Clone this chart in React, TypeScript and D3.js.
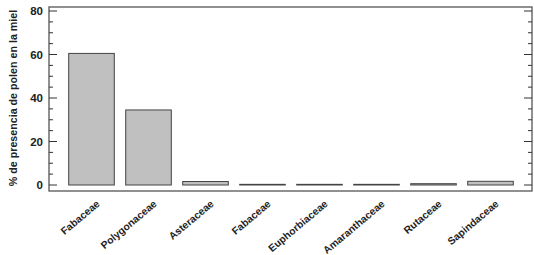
import React from 'react';
import * as d3 from 'd3';

// data
const families = ['Fabaceae', 'Polygonaceae', 'Asteraceae', 'Fabaceae ', 'Euphorbiaceae', 'Amaranthaceae', 'Rutaceae', 'Sapindaceae'];
const pollenPct = [60.5, 34.5, 1.6, 0.3, 0.3, 0.3, 0.6, 1.7];
const majorTicks = [0, 20, 40, 60, 80];
const minorTicks = d3.range(0, 81, 5).filter(v => v % 20 !== 0);

const W = 534;
const H = 255;
const frame = { left: 49, top: 7, right: 532, bottom: 191 };

const App = () => {
  const x = d3.scaleBand<string>()
    .domain(families)
    .range([63, 519])
    .paddingInner(0.2)
    .paddingOuter(0.1);

  const y = d3.scaleLinear()
    .domain([0, 80])
    .range([185, 11]);

  const font = 'Liberation Sans, Arial, sans-serif';

  return (
    <svg width={W} height={H} style={{ position: 'absolute', left: 0, top: 0 }}>
      <rect width={W} height={H} fill="#fff" />

      {/* frame */}
      <rect x={frame.left} y={frame.top} width={frame.right - frame.left} height={frame.bottom - frame.top}
        fill="none" stroke="#555" strokeWidth={1.3} />

      {/* ticks, both sides, inward */}
      {majorTicks.map(v => (
        <g key={'M' + v}>
          <line x1={frame.left} x2={frame.left + 8} y1={y(v)} y2={y(v)} stroke="#333" strokeWidth={1} />
          <line x1={frame.right} x2={frame.right - 8} y1={y(v)} y2={y(v)} stroke="#333" strokeWidth={1} />
          <text x={43} y={y(v)} dy="0.35em" textAnchor="end" fontFamily={font} fontWeight="bold"
            fontSize={11.5} fill="#222">{v}</text>
        </g>
      ))}
      {minorTicks.map(v => (
        <g key={'m' + v}>
          <line x1={frame.left} x2={frame.left + 4} y1={y(v)} y2={y(v)} stroke="#333" strokeWidth={1} />
          <line x1={frame.right} x2={frame.right - 4} y1={y(v)} y2={y(v)} stroke="#333" strokeWidth={1} />
        </g>
      ))}

      {/* bars */}
      {families.map((f, i) => (
        <rect key={f} x={x(f)} y={y(pollenPct[i])} width={x.bandwidth()}
          height={Math.max(0.5, y(0) - y(pollenPct[i]))}
          fill="#c0c0c0" stroke="#444" strokeWidth={1} />
      ))}

      {/* category labels */}
      {families.map(f => {
        const cx = (x(f) as number) + x.bandwidth() / 2 + 9;
        const cy = 205;
        return (
          <text key={'l' + f} x={cx} y={cy} textAnchor="end" fontFamily={font} fontWeight="bold"
            fontSize={10.3} fill="#222" transform={`rotate(-40,${cx},${cy})`}>{f.trim()}</text>
        );
      })}

      {/* y axis title */}
      <text transform={`translate(17,98) rotate(-90)`} textAnchor="middle" fontFamily={font}
        fontWeight="bold" fontSize={10.7} fill="#222">% de presencia de polen en la miel</text>
    </svg>
  );
};

export default App;
